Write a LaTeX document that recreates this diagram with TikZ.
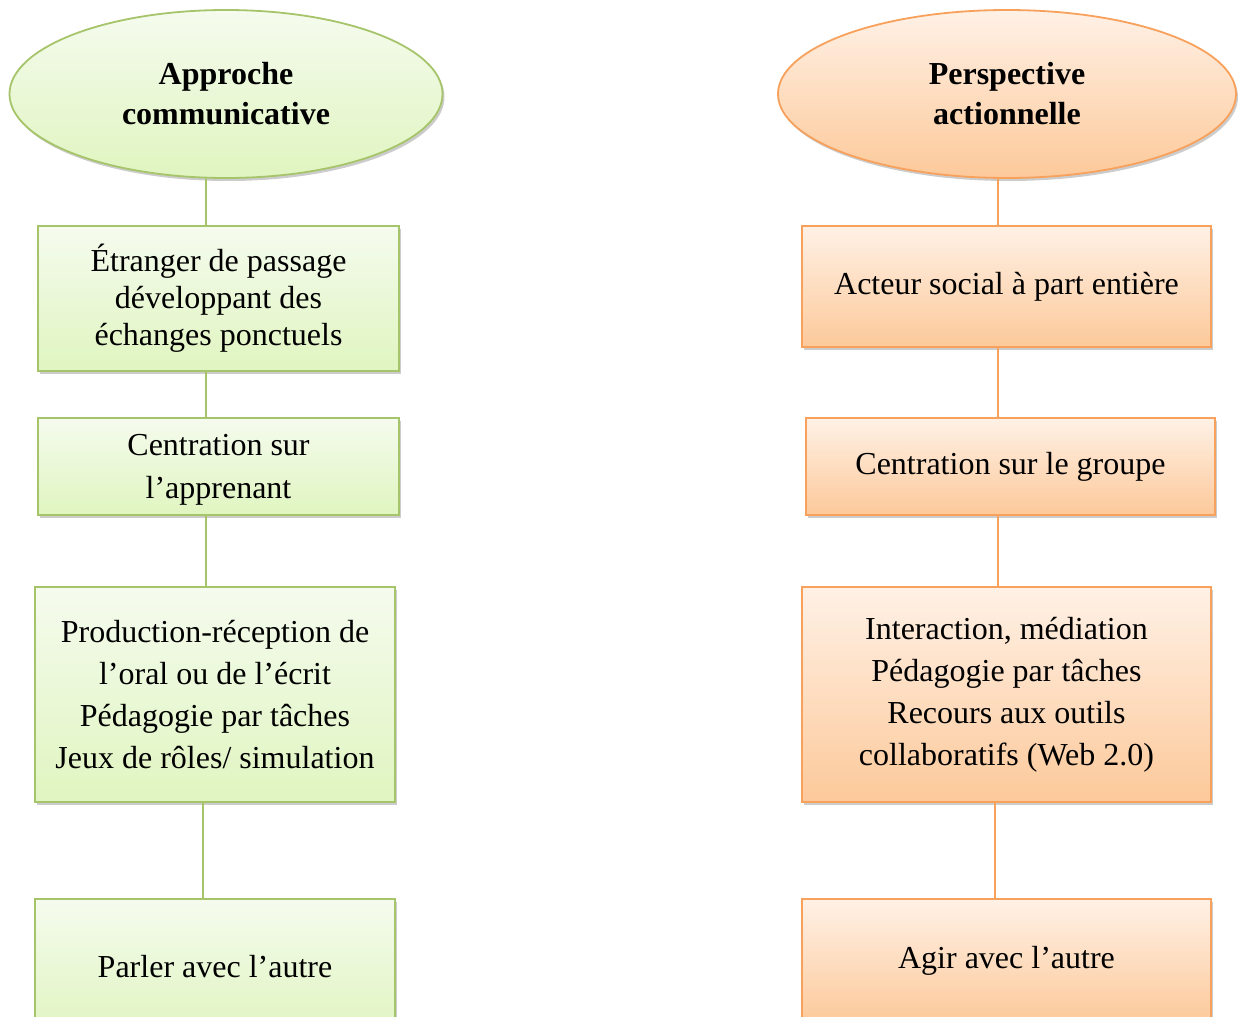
\documentclass[tikz,border=0pt]{standalone}
\usepackage{fontspec}
\setmainfont{Liberation Serif}
\usetikzlibrary{shapes.geometric,shadows}

\definecolor{gline}{HTML}{A6C46A}
\definecolor{gtop}{HTML}{F5FBEE}
\definecolor{gbot}{HTML}{E0F5C0}
\definecolor{oline}{HTML}{F7A15C}
\definecolor{otop}{HTML}{FFF1E6}
\definecolor{obot}{HTML}{FCC99A}

\begin{document}
\begin{tikzpicture}[x=1pt,y=-1pt,
  base/.style={drop shadow={opacity=0.4,shadow xshift=2pt,shadow yshift=-3pt},
    line width=1.8pt,align=center,inner sep=0pt,font=\fontsize{32}{37}\selectfont},
  gbox/.style={base,top color=gtop,bottom color=gbot,draw=gline},
  obox/.style={base,top color=otop,bottom color=obot,draw=oline},
  oval/.style={ellipse,font=\bfseries\fontsize{32}{40}\selectfont},
  wide/.style={font=\fontsize{32}{42}\selectfont},
  glink/.style={draw=gline,line width=1.8pt},
  olink/.style={draw=oline,line width=1.8pt}]
  \useasboundingbox (0,0) rectangle (1243,1017);
  \clip (0,0) rectangle (1243,1017);

  % left column
  \node[gbox,oval,minimum width=433pt,minimum height=168pt] (a) at (226,94)
    {Approche\\communicative};
  \node[gbox,minimum width=361pt,minimum height=145pt] (b) at (218.5,298.5)
    {Étranger de passage\\développant des\\échanges ponctuels};
  \node[gbox,minimum width=361pt,minimum height=97pt,font=\fontsize{32}{43}\selectfont] (c) at (218.5,466.5)
    {Centration sur\\\raisebox{0pt}[0pt][0pt]{l’apprenant}};
  \node[gbox,wide,minimum width=360pt,minimum height=215pt] (d) at (215,694.5)
    {Production-réception de\\l’oral ou de l’écrit\\Pédagogie par tâches\\Jeux de rôles/ simulation};
  \node[gbox,minimum width=360pt,minimum height=136pt,anchor=north] (e) at (215,898)
    {Parler avec l’autre};

  % right column
  \node[obox,oval,minimum width=458pt,minimum height=168pt] (p) at (1007,94)
    {Perspective\\actionnelle};
  \node[obox,minimum width=409pt,minimum height=121pt] (q) at (1006.5,286.5)
    {\raisebox{-4pt}{Acteur social à part entière}};
  \node[obox,minimum width=409pt,minimum height=97pt] (r) at (1010.5,466.5)
    {Centration sur le groupe};
  \node[obox,wide,minimum width=409pt,minimum height=215pt] (s) at (1006.5,694.5)
    {Interaction, médiation\\Pédagogie par tâches\\Recours aux outils\\collaboratifs (Web 2.0)};
  \node[obox,minimum width=409pt,minimum height=124pt,anchor=north] (t) at (1006.5,898)
    {Agir avec l’autre};

  % links
  \coordinate (gx) at (206,0);
  \coordinate (gy) at (203,0);
  \coordinate (ox) at (998,0);
  \coordinate (oy) at (995,0);
  \draw[glink] (a.south -| gx) -- (b.north -| gx);
  \draw[glink] (b.south -| gx) -- (c.north -| gx);
  \draw[glink] (c.south -| gx) -- (d.north -| gx);
  \draw[glink] (d.south -| gy) -- (e.north -| gy);
  \draw[olink] (p.south -| ox) -- (q.north -| ox);
  \draw[olink] (q.south -| ox) -- (r.north -| ox);
  \draw[olink] (r.south -| ox) -- (s.north -| ox);
  \draw[olink] (s.south -| oy) -- (t.north -| oy);
\end{tikzpicture}
\end{document}
